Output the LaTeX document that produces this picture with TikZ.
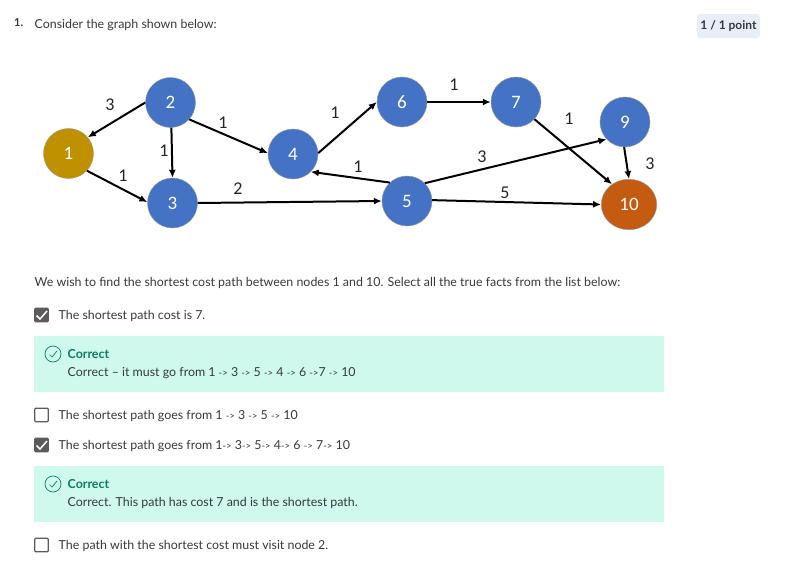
\documentclass[tikz,border=0pt]{standalone}
\usepackage{fontspec}
\setmainfont{Lato}
\newfontfamily\graphfont{Carlito}
\usetikzlibrary{arrows.meta,shapes.geometric}
\definecolor{nodeblue}{HTML}{4472C4}
\definecolor{startgold}{HTML}{BF9000}
\definecolor{endorange}{HTML}{C55A11}
\definecolor{okbg}{HTML}{CEF9EC}
\definecolor{okgreen}{HTML}{0B7F5E}
\definecolor{bodygrey}{HTML}{373A3C}
\definecolor{badgebg}{HTML}{E8EEF7}
\definecolor{boxgrey}{HTML}{5B5B5B}
\newcommand{\goes}{{\fontsize{9.6}{10}\selectfont ->}}
\tikzset{
	vertex/.style={circle, draw=black!40, line width=0.4pt, fill=nodeblue, text=white, minimum size=50pt, inner sep=0pt, font=\graphfont\fontsize{19}{19}\selectfont},
	edge/.style={-{Latex[length=8pt,width=7pt]}, line width=2pt, black},
	cost/.style={inner sep=0pt, text=black!85, font=\graphfont\fontsize{18}{18}\selectfont},
	txt/.style={anchor=base west, inner sep=0pt, text=bodygrey, font=\fontsize{12.4}{13}\selectfont},
	oktitle/.style={txt, text=okgreen, font=\fontsize{12.4}{13}\selectfont\bfseries},
	unticked/.style={draw=boxgrey, line width=1.4pt, rounded corners=1pt, minimum size=13.5pt, inner sep=0pt},
	ticked/.style={unticked, fill=boxgrey},
	tick/.style={white, line width=1.5pt},
	okbox/.style={fill=okbg, draw=none, minimum width=630pt, minimum height=56pt, inner sep=0pt},
}
\begin{document}
\begin{tikzpicture}[x=1pt,y=-1pt]
	\useasboundingbox (0,0) rectangle (793,562);
	\fill[white] (0,0) rectangle (793,562);
	
	\node (num) at (14,27) [txt, font=\fontsize{11}{12}\selectfont\bfseries] {1.};
	\node (head) at (34.5,28) [txt] {Consider the graph shown below:};
	\node (badge) at (728.5,26) [fill=badgebg, rounded corners=3pt, minimum width=63pt, minimum height=24pt, inner sep=0pt, text=bodygrey, font=\fontsize{12}{13}\selectfont\bfseries] {1 / 1 point};
	
	% graph
	\node (n1) at (68.5,153.5) [vertex, fill=startgold] {1};
	\node (n2) at (170.5,102.5) [vertex] {2};
	\node (n3) at (172.5,203) [vertex] {3};
	\node (n4) at (293,154) [vertex] {4};
	\node (n5) at (407,201) [vertex] {5};
	\node (n6) at (402,102) [vertex] {6};
	\node (n7) at (516,102) [vertex] {7};
	\node (n9) at (625,122) [vertex] {9};
	\node (n10) at (629,204.5) [vertex, ellipse, fill=endorange, minimum width=55.5pt, minimum height=50.5pt] {10};
	
	\draw[edge] (n2.180) -- (n1.40);
	\draw[edge] (n1.-43) -- (n3.178);
	\draw[edge] (n2.-88) -- (n3.90);
	\draw[edge] (n2.-42) -- (n4.178);
	\draw[edge] (n3.0) -- (n5.180);
	\draw[edge] (n4.2) -- (n6.180);
	\draw[edge] (n5.133) -- (n4.-45);
	\draw[edge] (n6.0) -- (n7.180);
	\draw[edge] (n7.-43) -- (n10.130);
	\draw[edge] (n5.45) -- (n9.-137);
	\draw[edge] (n5.2) -- (n10.180);
	\draw[edge] (n9.-92) -- (n10.90);
	
	\node (c21) at (110,105) [cost] {3};
	\node (c24) at (223,123) [cost] {1};
	\node (c23) at (164,151) [cost] {1};
	\node (c13) at (123,176) [cost] {1};
	\node (c35) at (238,189) [cost] {2};
	\node (c46) at (335,113) [cost] {1};
	\node (c54) at (358,167) [cost] {1};
	\node (c67) at (454,85) [cost] {1};
	\node (c59) at (482,157) [cost] {3};
	\node (c510) at (505,193) [cost] {5};
	\node (c710) at (569,119) [cost] {1};
	\node (c910) at (650,164) [cost] {3};
	
	% question
	\node (ask) at (34.5,286) [txt] {We wish to find the shortest cost path between nodes 1 and 10. Select all the true facts from the list below:};
	
	\node (box1) at (41.5,315) [ticked] {};
	\draw[tick] (36.5,315.5) -- (40,319) -- (47,311);
	\node (opt1) at (58.5,319) [txt] {The shortest path cost is 7.};
	
	\node (ok1) at (349,364) [okbox] {};
	\node (ring1) at (53,354) [circle, draw=okgreen, line width=0.7pt, minimum size=16pt, inner sep=0pt] {};
	\draw[okgreen, line width=0.7pt] (49.5,354.5) -- (52,357) -- (57,351);
	\node (oktitle1) at (67.5,358) [oktitle] {Correct};
	\node (okmsg1) at (67.5,376) [txt] {Correct – it must go from 1 \goes{} 3 \goes{} 5 \goes{} 4 \goes{} 6 \goes{}7 \goes{} 10};
	
	\node (box2) at (41.5,415) [unticked] {};
	\node (opt2) at (58.5,419) [txt] {The shortest path goes from 1 \goes{} 3 \goes{} 5 \goes{} 10};
	
	\node (box3) at (41.5,445) [ticked] {};
	\draw[tick] (36.5,445.5) -- (40,449) -- (47,441);
	\node (opt3) at (58.5,449) [txt] {The shortest path goes from 1\goes{} 3\goes{} 5\goes{} 4\goes{} 6 \goes{} 7\goes{} 10};
	
	\node (ok2) at (349,494) [okbox] {};
	\node (ring2) at (53,484) [circle, draw=okgreen, line width=0.7pt, minimum size=16pt, inner sep=0pt] {};
	\draw[okgreen, line width=0.7pt] (49.5,484.5) -- (52,487) -- (57,481);
	\node (oktitle2) at (67.5,488) [oktitle] {Correct};
	\node (okmsg2) at (67.5,506) [txt] {Correct. This path has cost 7 and is the shortest path.};
	
	\node (box4) at (41.5,545) [unticked] {};
	\node (opt4) at (58.5,549) [txt] {The path with the shortest cost must visit node 2.};
\end{tikzpicture}
\end{document}
